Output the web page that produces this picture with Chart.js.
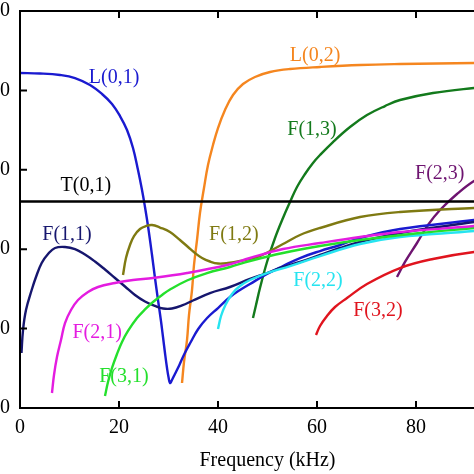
<!DOCTYPE html>
<html>
<head>
<meta charset="utf-8">
<title>Dispersion curves</title>
<script src="https://cdn.jsdelivr.net/npm/chart.js@4"></script>
<style>
    html, body { margin: 0; padding: 0; background: #fff; overflow: hidden; }
    body { width: 474px; height: 474px; position: relative; }
    #wrap { position: absolute; left: -100px; top: 0; width: 640px; height: 474px; }
</style>
</head>
<body>
<div id="wrap"><canvas id="dispersionChart"></canvas></div>
<script>
// =========================
// DATA (frequency in kHz, phase velocity in m/s)
// =========================
const xTicks = [0, 20, 40, 60, 80, 100];
const yTicks = [0, 1000, 2000, 3000, 4000, 5000];

const t01Freq = [0, 100];
const t01Vel = [2600, 2600];

const l01Freq = [0, 4.04, 8.08, 11.11, 14.14, 16.57, 18.59, 20.2, 21.62, 22.83, 23.84, 24.65, 25.25, 25.86, 26.67, 27.27, 27.88, 28.48, 28.89, 29.29, 29.7, 30.0, 30.3, 30.7, 31.3, 32.2, 33.2, 34.5, 36.0, 37.8, 40.0, 42.42, 44.44, 46.46, 49.9, 53.13, 56.57, 60.61, 64.65, 68.69, 76.77, 91.72, 100];
const l01Vel = [4219, 4213, 4194, 4156, 4068, 3955, 3829, 3677, 3501, 3274, 2997, 2745, 2531, 2292, 1927, 1637, 1360, 1096, 894, 693, 504, 390, 315, 353, 428, 542, 680, 831, 995, 1133, 1259, 1398, 1486, 1562, 1688, 1788, 1889, 1977, 2053, 2141, 2254, 2368, 2440];

const l02Freq = [32.73, 33.13, 33.74, 34.14, 34.75, 35.15, 35.76, 36.36, 37.17, 37.98, 38.99, 40.0, 41.41, 43.03, 45.05, 47.47, 50.51, 54.55, 60.61, 68.69, 76.77, 91.72, 100];
const l02Vel = [315, 579, 856, 1171, 1486, 1801, 2116, 2456, 2771, 3060, 3312, 3526, 3753, 3942, 4080, 4169, 4232, 4269, 4295, 4320, 4332, 4345, 4350];

const f11Freq = [0.3, 0.61, 1.21, 2.36, 3.23, 4.38, 5.66, 7.07, 9.09, 11.11, 13.13, 15.15, 17.17, 19.19, 21.21, 23.23, 25.25, 27.27, 28.89, 30.71, 32.73, 34.95, 38.38, 42.42, 46.46, 49.9, 53.13, 56.57, 60.61, 64.65, 68.69, 76.77, 91.72, 100];
const f11Vel = [693, 982, 1234, 1486, 1650, 1826, 1939, 2015, 2028, 2002, 1933, 1845, 1744, 1637, 1530, 1423, 1341, 1285, 1253, 1253, 1291, 1354, 1448, 1524, 1625, 1700, 1776, 1839, 1927, 2015, 2091, 2204, 2342, 2420];

const f12Freq = [20.81, 21.41, 22.22, 23.03, 24.24, 25.45, 26.67, 28.28, 30.3, 32.32, 33.94, 35.35, 36.77, 38.38, 40.0, 42.02, 44.44, 48.48, 53.13, 56.57, 60.61, 68.69, 76.77, 91.72, 100];
const f12Vel = [1675, 1889, 2053, 2166, 2254, 2292, 2305, 2273, 2217, 2116, 2028, 1952, 1889, 1845, 1820, 1826, 1851, 1914, 2065, 2179, 2267, 2405, 2468, 2519, 2540];

const f13Freq = [47.07, 47.68, 48.48, 49.9, 51.52, 53.13, 54.55, 55.96, 57.58, 59.19, 60.61, 63.23, 66.67, 70.1, 73.74, 76.77, 83.43, 91.72, 100];
const f13Vel = [1133, 1297, 1511, 1839, 2141, 2393, 2594, 2783, 2947, 3086, 3186, 3350, 3539, 3690, 3803, 3879, 3967, 4030, 4080];

const f21Freq = [6.46, 6.87, 7.47, 8.28, 9.09, 10.3, 11.72, 13.74, 15.76, 19.19, 22.83, 26.87, 33.74, 41.82, 46.46, 53.13, 60.61, 68.69, 76.77, 91.72, 100];
const f21Vel = [189, 416, 642, 856, 1070, 1234, 1360, 1461, 1524, 1574, 1612, 1637, 1700, 1801, 1889, 2002, 2078, 2154, 2217, 2292, 2350];

const f22Freq = [40.0, 40.61, 41.41, 42.83, 44.44, 46.46, 49.9, 54.55, 60.61, 68.69, 76.77, 91.72, 100];
const f22Vel = [995, 1159, 1285, 1436, 1536, 1612, 1700, 1788, 1914, 2065, 2154, 2229, 2290];

const f23Freq = [76.16, 77.78, 80.2, 82.42, 84.85, 88.28, 91.72, 100];
const f23Vel = [1650, 1839, 2078, 2305, 2494, 2695, 2859, 3150];

const f31Freq = [17.17, 17.78, 18.59, 19.6, 20.61, 21.82, 23.64, 25.25, 26.87, 28.69, 30.3, 33.74, 37.78, 42.42, 46.46, 53.13, 60.61, 68.69, 80.81, 91.72, 100];
const f31Vel = [151, 327, 504, 680, 831, 970, 1133, 1241, 1335, 1423, 1492, 1606, 1700, 1776, 1851, 1952, 2040, 2116, 2204, 2267, 2320];

const f32Freq = [59.8, 60.61, 62.02, 63.64, 66.06, 70.1, 76.77, 83.43, 91.72, 100];
const f32Vel = [919, 1033, 1159, 1272, 1385, 1562, 1763, 1877, 1965, 2010];

// curve labels, placed in data units
const labelText = ['L(0,1)', 'L(0,2)', 'F(1,3)', 'T(0,1)', 'F(1,1)', 'F(1,2)', 'F(2,1)', 'F(3,1)', 'F(2,2)', 'F(2,3)', 'F(3,2)'];
const labelFreq = [19.0, 59.6, 59.0, 13.3, 9.5, 43.2, 15.6, 21.0, 60.2, 84.8, 72.3];
const labelVel = [4156, 4433, 3501, 2796, 2179, 2179, 945, 390, 1599, 2947, 1222];

// =========================
// STYLES
// =========================
const colors = {
    'T(0,1)': '#000000',
    'L(0,1)': '#1a1ad0',
    'L(0,2)': '#f5861f',
    'F(1,1)': '#16166e',
    'F(1,2)': '#7f7a12',
    'F(1,3)': '#137a1c',
    'F(2,1)': '#e41ce0',
    'F(2,2)': '#26e4f0',
    'F(2,3)': '#6e1470',
    'F(3,1)': '#24e02c',
    'F(3,2)': '#e0141e'
};
const serif = "'Liberation Serif', 'Times New Roman', serif";

function pts(freq, vel) {
    return freq.map(function (f, i) { return { x: f, y: vel[i] }; });
}

function ds(name, freq, vel) {
    return {
        label: name,
        data: pts(freq, vel),
        borderColor: colors[name],
        backgroundColor: colors[name],
        borderWidth: 2.4,
        pointRadius: 0,
        fill: false,
        tension: 0.4
    };
}

const datasets = [
    ds('T(0,1)', t01Freq, t01Vel),
    ds('F(2,1)', f21Freq, f21Vel),
    ds('F(3,1)', f31Freq, f31Vel),
    ds('F(2,2)', f22Freq, f22Vel),
    ds('F(1,2)', f12Freq, f12Vel),
    ds('F(1,1)', f11Freq, f11Vel),
    ds('L(0,1)', l01Freq, l01Vel),
    ds('L(0,2)', l02Freq, l02Vel),
    ds('F(1,3)', f13Freq, f13Vel),
    ds('F(3,2)', f32Freq, f32Vel),
    ds('F(2,3)', f23Freq, f23Vel)
];

// =========================
// FRAME + INWARD TICKS
// =========================
const framePlugin = {
    id: 'frame',
    afterDraw: function (chart) {
        const ctx = chart.ctx;
        const a = chart.chartArea;
        const sx = chart.scales.x;
        const sy = chart.scales.y;
        const len = 7;
        ctx.save();
        ctx.strokeStyle = '#000';
        ctx.lineWidth = 2;
        ctx.beginPath();
        ctx.rect(a.left, a.top, a.right - a.left, a.bottom - a.top);
        xTicks.forEach(function (v) {
            const px = sx.getPixelForValue(v);
            ctx.moveTo(px, a.bottom); ctx.lineTo(px, a.bottom - len);
            ctx.moveTo(px, a.top); ctx.lineTo(px, a.top + len);
        });
        yTicks.forEach(function (v) {
            const py = sy.getPixelForValue(v);
            ctx.moveTo(a.left, py); ctx.lineTo(a.left + len, py);
            ctx.moveTo(a.right, py); ctx.lineTo(a.right - len, py);
        });
        ctx.stroke();
        ctx.restore();
    }
};

// =========================
// CURVE LABELS
// =========================
const labelPlugin = {
    id: 'curveLabels',
    afterDatasetsDraw: function (chart) {
        const ctx = chart.ctx;
        const sx = chart.scales.x;
        const sy = chart.scales.y;
        ctx.save();
        ctx.font = '20px ' + serif;
        ctx.textAlign = 'center';
        ctx.textBaseline = 'middle';
        labelText.forEach(function (t, i) {
            ctx.fillStyle = colors[t];
            ctx.fillText(t, sx.getPixelForValue(labelFreq[i]), sy.getPixelForValue(labelVel[i]));
        });
        ctx.restore();
    }
};

// =========================
// CHART
// =========================
new Chart(document.getElementById('dispersionChart'), {
    type: 'line',
    data: { datasets: datasets },
    options: {
        responsive: true,
        maintainAspectRatio: false,
        animation: false,
        layout: { padding: { top: 11, right: 25, left: 0, bottom: 0 } },
        plugins: {
            legend: { display: false },
            tooltip: { enabled: false }
        },
        scales: {
            x: {
                type: 'linear',
                min: 0,
                max: 100,
                grid: { display: false, drawTicks: false },
                border: { display: false },
                afterBuildTicks: function (scale) {
                    scale.ticks = xTicks.map(function (v) { return { value: v }; });
                },
                ticks: { color: '#000', font: { family: serif, size: 20 }, padding: 8, maxRotation: 0 },
                title: {
                    display: true,
                    text: 'Frequency (kHz)',
                    color: '#000',
                    font: { family: serif, size: 20 },
                    padding: { top: 2, bottom: 1 }
                },
                afterFit: function (scale) {
                    scale.height = 66;
                    scale.paddingLeft = 0;
                    scale.paddingRight = 0;
                }
            },
            y: {
                type: 'linear',
                min: 0,
                max: 5000,
                grid: { display: false, drawTicks: false },
                border: { display: false },
                afterBuildTicks: function (scale) {
                    scale.ticks = yTicks.map(function (v) { return { value: v }; });
                },
                ticks: { color: '#000', font: { family: serif, size: 20 }, padding: 10 },
                afterFit: function (scale) {
                    scale.width = 120;
                    scale.paddingTop = 0;
                    scale.paddingBottom = 0;
                }
            }
        }
    },
    plugins: [framePlugin, labelPlugin]
});
</script>
</body>
</html>
